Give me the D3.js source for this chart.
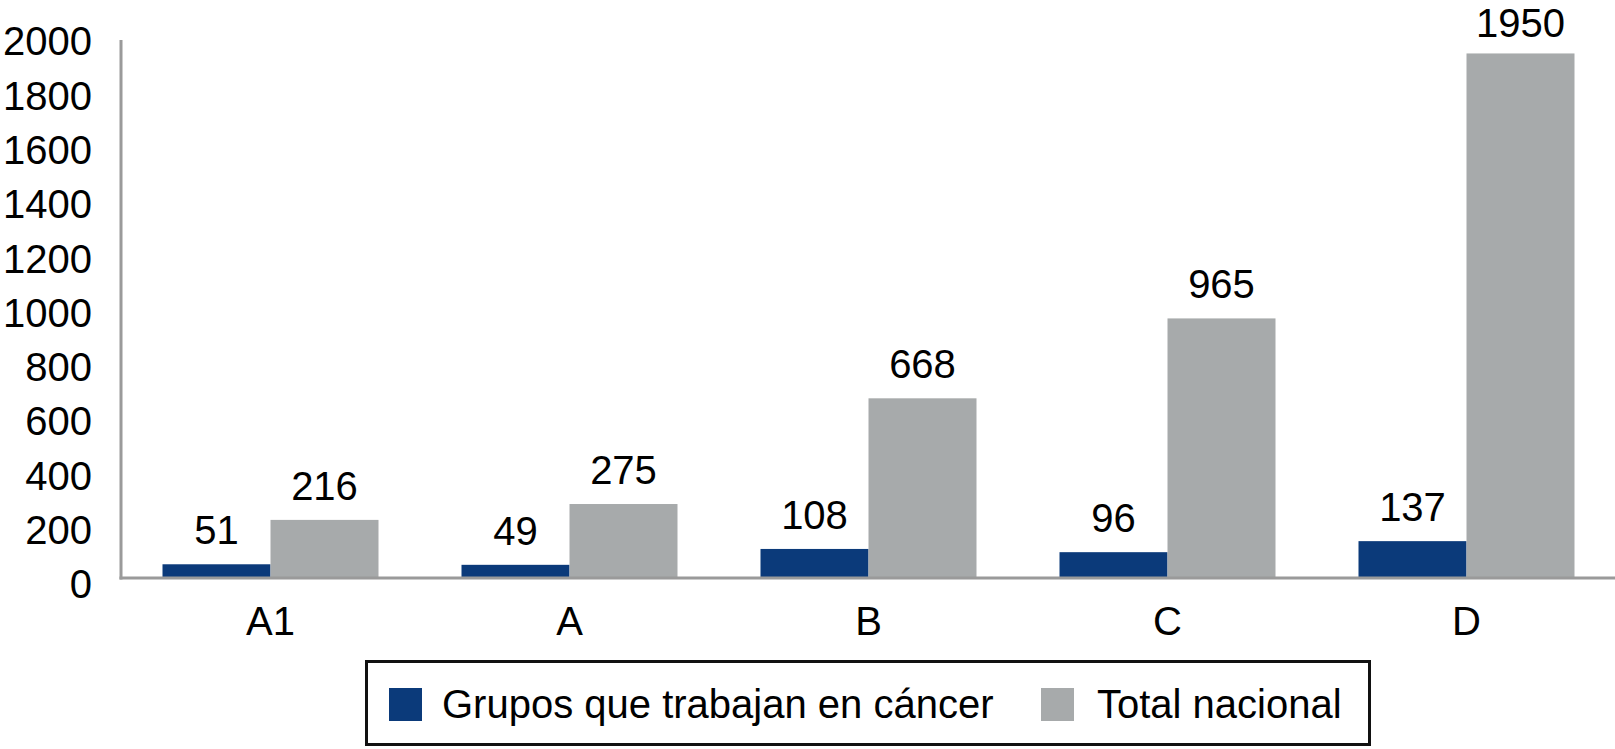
<!DOCTYPE html>
<html>
<head>
<meta charset="utf-8">
<script src="https://cdn.jsdelivr.net/npm/d3@7"></script>
<style>
html,body{margin:0;padding:0;background:#fff;}
svg{display:block;font-family:"Liberation Sans",Arial,Helvetica,sans-serif;}
</style>
</head>
<body>
<svg id="chart" width="1615" height="749"></svg>
<script>
const categories = ["A1", "A", "B", "C", "D"];
const seriesNames = ["Grupos que trabajan en cáncer", "Total nacional"];
const grupos = [51, 49, 108, 96, 137];
const totalNacional = [216, 275, 668, 965, 1950];
const yTicks = [0, 200, 400, 600, 800, 1000, 1200, 1400, 1600, 1800, 2000];
const colors = ["#0b3a7a", "#a7aaab"];

const svg = d3.select("#chart");
const fontSize = 40;

const x0 = d3.scaleBand().domain(categories).range([121, 1616]).padding(0);
const groupW = 216;
const x1 = d3.scaleBand().domain(seriesNames).range([0, groupW]).padding(0);
const y = d3.scaleLinear().domain([0, 2000]).range([578, 40]);
const yLab = d3.scaleLinear().domain([0, 2000]).range([585, 42]);

const rows = categories.map((c, i) => ({cat: c, vals: [grupos[i], totalNacional[i]]}));

// bars
const g = svg.append("g");
const groups = g.selectAll("g.grp").data(rows).join("g")
  .attr("transform", d => `translate(${x0(d.cat) + (x0.bandwidth() - groupW) / 2},0)`);
groups.selectAll("rect").data(d => d.vals.map((v, k) => ({v, k}))).join("rect")
  .attr("x", d => x1(seriesNames[d.k]))
  .attr("width", x1.bandwidth())
  .attr("y", d => y(d.v))
  .attr("height", d => y(0) - y(d.v))
  .attr("fill", d => colors[d.k]);
groups.selectAll("text").data(d => d.vals.map((v, k) => ({v, k}))).join("text")
  .attr("x", d => x1(seriesNames[d.k]) + x1.bandwidth() / 2)
  .attr("y", d => Math.max(y(d.v) - 20, 37))
  .attr("text-anchor", "middle")
  .attr("font-size", fontSize)
  .attr("fill", "#000")
  .text(d => d.v);

// y axis labels
const yAxis = svg.append("g").attr("transform", "translate(121,0)")
  .call(d3.axisLeft(yLab).tickValues(yTicks).tickSize(0).tickPadding(29).tickFormat(d3.format("d")));
yAxis.select(".domain").remove();
yAxis.selectAll("text").attr("font-size", fontSize).attr("fill", "#000")
  .attr("font-family", "Liberation Sans, Arial, sans-serif");

// axis lines
svg.append("line").attr("x1", 121).attr("x2", 121).attr("y1", y(2000)).attr("y2", y(0) + 1.5)
  .attr("stroke", "#9a9a9a").attr("stroke-width", 3);
const xAxis = svg.append("g").attr("transform", `translate(0,${y(0)})`)
  .call(d3.axisBottom(x0).tickSize(0).tickPadding(57));
xAxis.select(".domain").attr("stroke", "#9a9a9a").attr("stroke-width", 3)
  .attr("d", `M119.5,0H1615`);
xAxis.selectAll("text").attr("font-size", fontSize).attr("fill", "#000")
  .attr("font-family", "Liberation Sans, Arial, sans-serif").attr("dy", 0);

// legend
const leg = svg.append("g");
leg.append("rect").attr("x", 366.5).attr("y", 661.5).attr("width", 1003).attr("height", 83)
  .attr("fill", "#fff").attr("stroke", "#111").attr("stroke-width", 3);
const legX = [389, 1041];
const legTextX = [442, 1097];
seriesNames.forEach((n, k) => {
  leg.append("rect").attr("x", legX[k]).attr("y", 688).attr("width", 33).attr("height", 33)
    .attr("fill", colors[k]);
  leg.append("text").attr("x", legTextX[k]).attr("y", 718).attr("font-size", fontSize)
    .attr("fill", "#000").text(n);
});
</script>
</body>
</html>
